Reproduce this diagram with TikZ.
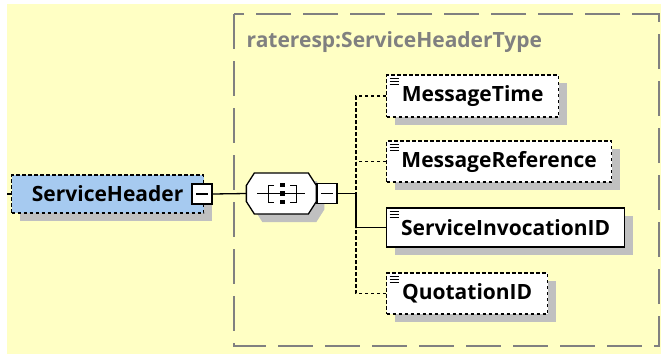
\documentclass[tikz,border=0pt]{standalone}
\usepackage{fontspec}
\setmainfont{Open Sans}
\usetikzlibrary{shadows}

\definecolor{bgyellow}{RGB}{255,255,196}
\definecolor{elemblue}{RGB}{166,202,240}
\definecolor{shadowgray}{RGB}{192,192,192}
\definecolor{framegray}{RGB}{128,128,128}

\tikzset{
	boxtext/.style={font=\bfseries\fontsize{21}{25}\selectfont},
	optional/.style={dash pattern=on 3.5pt off 2.5pt},
	shadowed/.style={drop shadow={shadow xshift=8pt, shadow yshift=-8pt, fill=shadowgray, opacity=1}},
	elem/.style={boxtext, draw=black, line width=1.3pt, fill=white, shadowed, inner sep=0pt, anchor=west,
		path picture={\foreach \k in {3,6,9} \draw[solid, line width=1pt] ([xshift=3pt,yshift=-\k pt]path picture bounding box.north west) -- ++(9pt,0);}},
	minusbox/.style={draw=black, line width=1.3pt, fill=white, minimum size=20pt, inner sep=0pt,
		path picture={\draw[line width=1.3pt] ([xshift=4pt]path picture bounding box.west) -- ([xshift=-4pt]path picture bounding box.east);}},
}

\begin{document}
\begin{tikzpicture}[x=1pt, y=-1pt, line width=1.3pt]
	\useasboundingbox (0,0) rectangle (661,354);
	\fill[white] (0,0) rectangle (661,354);
	\fill[bgyellow] (7,4) rectangle (661,354);
	%%
	\draw[framegray, line width=2pt, dash pattern=on 35pt off 12pt] (234,14) rectangle (659,346);
	\node[boxtext, text=framegray, anchor=west, inner sep=0pt] (typename) at (246,42) {rateresp:ServiceHeaderType};
	%%
	\node[boxtext, draw=black, fill=elemblue, optional, shadowed, anchor=west, inner sep=0pt,
		minimum width=192pt, minimum height=38pt] (header) at (11,194) {ServiceHeader};
	\node[minusbox] (headerminus) at (202,194) {};
	\coordinate (stub) at (7,194);
	%%
	\node[minimum width=70pt, minimum height=41pt, inner sep=0pt] (seq) at (282,193.5) {};
	\fill[shadowgray] ([xshift=8pt,yshift=-8pt]seq.west) -- ++(0,-8) -- ++(8,-12.5) -- ++(54,0) -- ++(8,12.5) -- ++(0,16) -- ++(-8,12.5) -- ++(-54,0) -- ++(-8,-12.5) -- cycle;
	\draw[fill=white] (seq.west) -- ++(0,-8) -- ++(8,-12.5) -- ++(54,0) -- ++(8,12.5) -- ++(0,16) -- ++(-8,12.5) -- ++(-54,0) -- ++(-8,-12.5) -- cycle;
	\node[minusbox] (seqminus) at (327,193.5) {};
	%% sequence icon
	\draw[line width=1pt] (257,193.5) -- (305,193.5);
	\draw[line width=1pt] (274,185) -- (268,185) -- (268,202) -- (274,202);
	\draw[line width=1pt] (290,185) -- (296,185) -- (296,202) -- (290,202);
	\foreach \yy in {185,193.5,202}
		\fill (280,\yy-2.2) rectangle (284.5,\yy+2.2);
	%%
	\node[elem, optional, minimum width=172pt, minimum height=42pt] (msgtime) at (386,96) {MessageTime};
	\node[elem, optional, minimum width=225pt, minimum height=41pt] (msgref) at (386,161.5) {MessageReference};
	\node[elem, minimum width=238pt, minimum height=39pt] (invocid) at (386,227.5) {ServiceInvocationID};
	\node[elem, optional, minimum width=161pt, minimum height=41pt] (quoteid) at (386,293.5) {QuotationID};
	\coordinate (jn) at (356,193.5);
	%%
	\draw (stub) -- (header.west);
	\draw (headerminus.east) -- (seq.west);
	\draw (seqminus.east) -- (jn);
	\draw[optional] (msgtime.west) -| (jn);
	\draw[optional] (msgref.west) -- (msgref.west -| jn);
	\draw (invocid.west) -| (jn);
	\draw[optional] (quoteid.west) -| (invocid.west -| jn);
\end{tikzpicture}
\end{document}
